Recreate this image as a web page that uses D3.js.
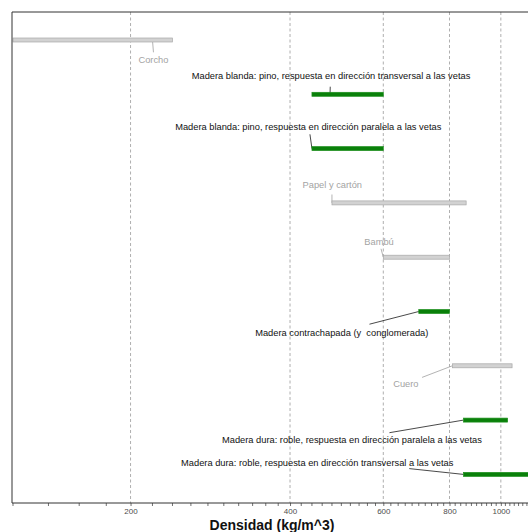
<!DOCTYPE html>
<html>
<head>
<meta charset="utf-8">
<script src="https://cdn.jsdelivr.net/npm/d3@7"></script>
<style>
  html, body { margin: 0; padding: 0; background: #fff; }
  svg { display: block; }
  text { font-family: "Liberation Sans", Arial, Helvetica, sans-serif; }
  .lbl { white-space: pre; }
</style>
</head>
<body>
<svg id="chart" width="528" height="532"></svg>
<script>
// Materials, top to bottom
const categories = [
  "Corcho",
  "Madera blanda: pino, respuesta en dirección transversal a las vetas",
  "Madera blanda: pino, respuesta en dirección paralela a las vetas",
  "Papel y cartón",
  "Bambú",
  "Madera contrachapada (y  conglomerada)",
  "Cuero",
  "Madera dura: roble, respuesta en dirección paralela a las vetas",
  "Madera dura: roble, respuesta en dirección transversal a las vetas"
];
// Density ranges (kg/m^3)
const densityMin = [120, 440, 440, 480, 600, 700, 810, 850, 850];
const densityMax = [240, 600, 600, 860, 800, 800, 1050, 1030, 1200];
// Wood-based materials are highlighted
const isWood = [false, true, true, false, false, true, false, true, true];
// Density where each label's leader meets its bar
const labelAt = [220, 476, 440, 480, 600, 700, 810, 850, 850];

// Axis ticks
const majorTicks = [200, 400, 600, 800, 1000];
const minorTicks = d3.range(120, 1160, 20).filter(v => !majorTicks.includes(v));

// Label placement: centre offset from the leader anchor, and leader end offset from the label centre
const labelOffset = [[1, 20], [1, -18.3], [-3.7, -21.6], [0.3, -17.7], [-4.3, -15.7], [-77, 21], [-46.5, 17.6], [-111.5, 19.3], [-146.2, -11.3]];
const leaderEnd = [[0, -7.7], [-0.8, 10.7], [1.7, 7.3], [-0.3, 9.3], [2, 7.3], [27.7, -8.3], [16.2, -6], [37.5, -6.7], [92, 5.5]];

const svg = d3.select("#chart");
const panel = { left: 12, top: 12, right: 540, bottom: 503 };

const x = d3.scaleLog().domain([120, 1150]).range([13, 533]);
const y = d3.scalePoint().domain(categories).range([40, 474.4]);

const rows = categories.map((c, i) => ({
  name: c, lo: densityMin[i], hi: densityMax[i], wood: isWood[i],
  at: labelAt[i], off: labelOffset[i], end: leaderEnd[i]
}));

svg.append("defs").append("clipPath").attr("id", "panelClip")
  .append("rect")
  .attr("x", panel.left).attr("y", panel.top)
  .attr("width", panel.right - panel.left).attr("height", panel.bottom - panel.top);

// Dashed grid at major ticks
svg.append("g").selectAll("line").data(majorTicks).join("line")
  .attr("x1", d => x(d)).attr("x2", d => x(d))
  .attr("y1", panel.top).attr("y2", panel.bottom)
  .attr("stroke", "#9a9a9a").attr("stroke-width", 0.8)
  .attr("stroke-dasharray", "3,2.5");

const plot = svg.append("g").attr("clip-path", "url(#panelClip)");

// Leader lines
plot.append("g").selectAll("line").data(rows).join("line")
  .attr("x1", d => x(d.at))
  .attr("y1", d => y(d.name))
  .attr("x2", d => x(d.at) + d.off[0] + d.end[0])
  .attr("y2", d => y(d.name) + d.off[1] + d.end[1])
  .attr("stroke", d => d.wood ? "#1a1a1a" : "#a0a0a0")
  .attr("stroke-width", 0.8);

// Range bars
plot.append("g").selectAll("rect").data(rows).join("rect")
  .attr("x", d => x(d.lo))
  .attr("width", d => x(d.hi) - x(d.lo))
  .attr("y", d => y(d.name) - 2)
  .attr("height", 4)
  .attr("fill", d => d.wood ? "#0a800a" : "#d2d2d2")
  .attr("stroke", d => d.wood ? "#1f901f" : "#a8a8a8")
  .attr("stroke-width", 0.7);

// Labels
svg.append("g").selectAll("text").data(rows).join("text")
  .attr("class", "lbl")
  .attr("x", d => x(d.at) + d.off[0])
  .attr("y", d => y(d.name) + d.off[1] + 3.2)
  .attr("text-anchor", "middle")
  .attr("font-size", 9.3)
  .attr("fill", d => d.wood ? "#111" : "#a3a3a3")
  .text(d => d.name);

// Panel frame (left, top)
svg.append("path")
  .attr("d", `M${panel.right},${panel.top}H${panel.left}V${panel.bottom}`)
  .attr("fill", "none").attr("stroke", "#333").attr("stroke-width", 1);

// Bottom axis with labelled major ticks
const axis = d3.axisBottom(x)
  .tickValues(majorTicks)
  .tickSize(3)
  .tickPadding(2.5)
  .tickFormat(d3.format("d"));
const gAxis = svg.append("g").attr("transform", `translate(0,${panel.bottom})`).call(axis);
gAxis.select(".domain").attr("d", `M${panel.left},0H${panel.right}`).attr("stroke", "#333").attr("stroke-width", 1);
gAxis.selectAll(".tick line").attr("stroke", "#333").attr("stroke-width", 0.7);
gAxis.selectAll(".tick text")
  .attr("font-family", "'Liberation Sans', Arial, sans-serif")
  .attr("font-size", 8).attr("fill", "#4d4d4d");

// Unlabelled minor ticks every 20 kg/m^3
gAxis.append("g").selectAll("line").data(minorTicks).join("line")
  .attr("x1", d => x(d)).attr("x2", d => x(d))
  .attr("y1", 0).attr("y2", 3)
  .attr("stroke", "#333").attr("stroke-width", 0.7);

// Axis title
svg.append("text")
  .attr("x", 272).attr("y", 529.5)
  .attr("text-anchor", "middle")
  .attr("font-size", 14).attr("font-weight", "bold")
  .attr("fill", "#111")
  .text("Densidad (kg/m^3)");
</script>
</body>
</html>
